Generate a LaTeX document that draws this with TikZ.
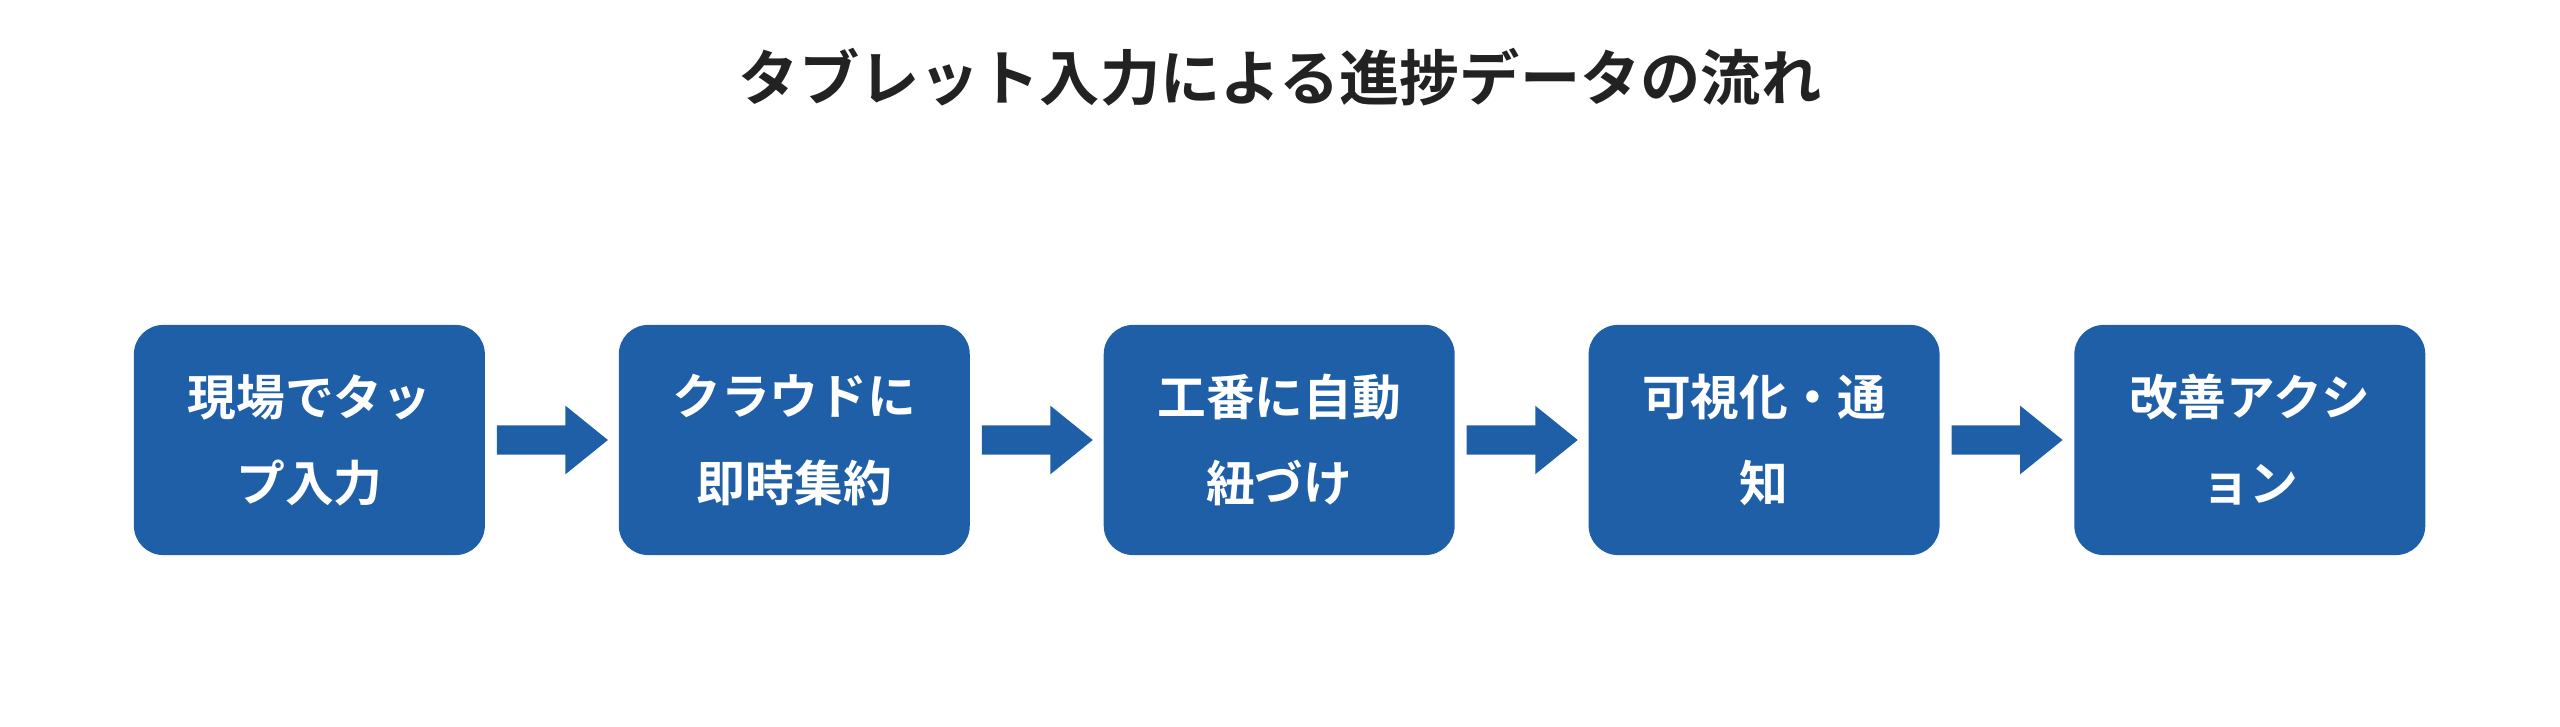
\documentclass[tikz,border=0pt]{standalone}
\usepackage{fontspec}
\newfontfamily\cjk{Noto Sans CJK JP}[BoldFont={Noto Sans CJK JP Bold}]
\definecolor{boxblue}{HTML}{1F5FA8}
\definecolor{titlec}{HTML}{222222}
\begin{document}
\begin{tikzpicture}[x=0.02cm,y=-0.02cm,
  box/.style={fill=boxblue,rounded corners=0.36cm,minimum width=4.3cm,minimum height=2.82cm,inner sep=0pt,
    text=white,font=\cjk\bfseries\fontsize{17}{30}\selectfont,align=center},
  arr/.style={fill=boxblue}]
\useasboundingbox (0,0) rectangle (1568,445);
\node[font=\cjk\bfseries\fontsize{21}{25}\selectfont,text=titlec] (title) at (784,47) {タブレット入力による進捗データの流れ};
\node[box] (b1) at (189.5,269.5) {現場でタッ\\プ入力};
\node[box] (b2) at (486.5,269.5) {クラウドに\\即時集約};
\node[box] (b3) at (783.5,269.5) {工番に自動\\紐づけ};
\node[box] (b4) at (1080.5,269.5) {可視化・通\\知};
\node[box] (b5) at (1378,269.5) {改善アクシ\\ョン};
\foreach \a/\b [count=\i] in {b1/b2,b2/b3,b3/b4,b4/b5}{
  \path (\a.east) ++(7,0) coordinate (s\i);
  \fill[arr] (s\i) ++(0,-9) -- ++(42,0) -- ++(0,-12) -- ++(26,21) -- ++(-26,21) -- ++(0,-12) -- ++(-42,0) -- cycle;
}
\end{tikzpicture}
\end{document}
